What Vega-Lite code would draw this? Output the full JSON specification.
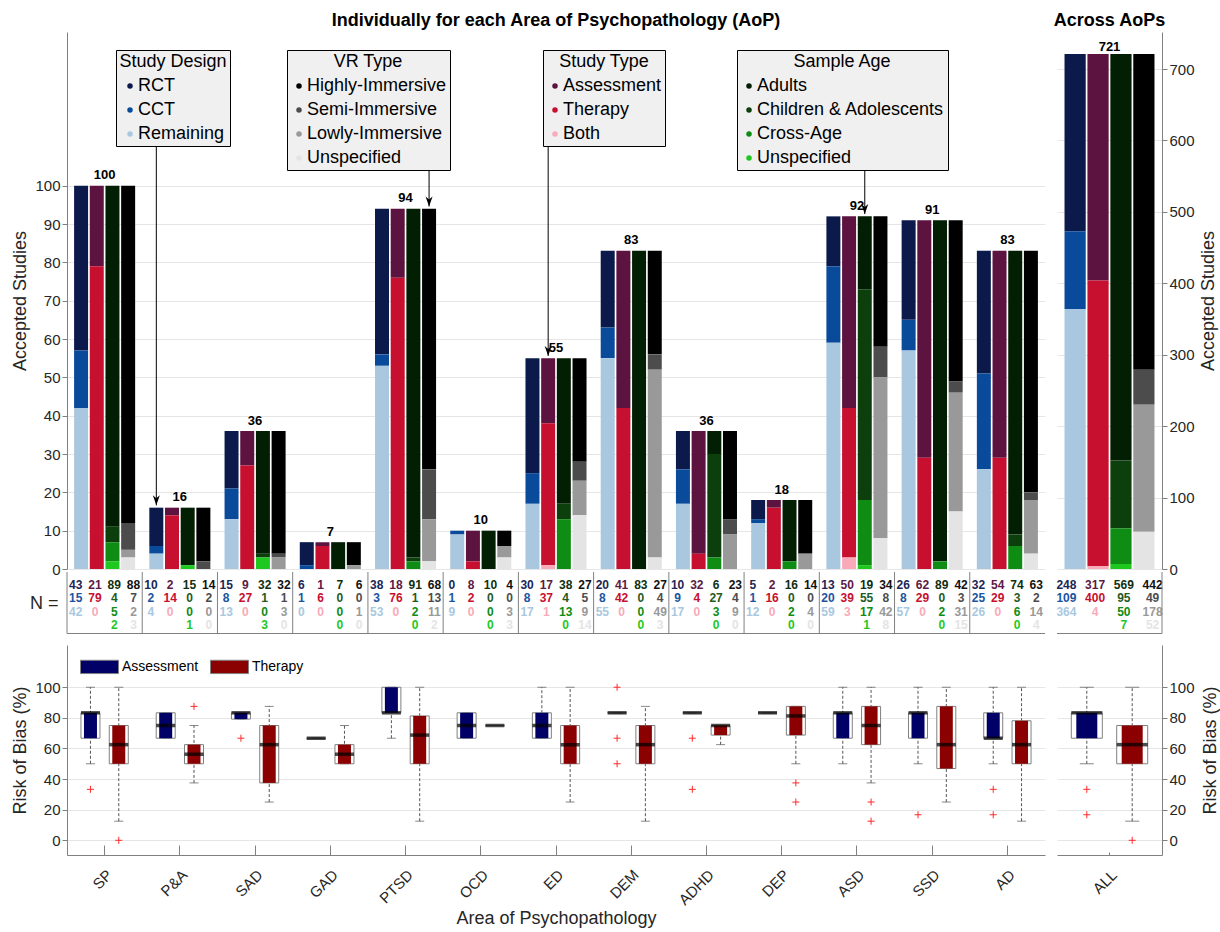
{
  "$schema": "https://vega.github.io/schema/vega-lite/v6.json",
  "background": "white",
  "padding": {"left": 11, "top": 12, "right": 5, "bottom": 5},
  "autosize": {"type": "pad"},
  "datasets": {
    "counts": [
      {"aop": "SP", "N": 100, "RCT": 43, "CCT": 15, "Remaining": 42, "Assessment": 21, "Therapy": 79, "Both": 0, "Adults": 89, "Children & Adolescents": 4, "Cross-Age": 5, "Unspecified age": 2, "Highly-Immersive": 88, "Semi-Immersive": 7, "Lowly-Immersive": 2, "Unspecified VR": 3},
      {"aop": "P&A", "N": 16, "RCT": 10, "CCT": 2, "Remaining": 4, "Assessment": 2, "Therapy": 14, "Both": 0, "Adults": 15, "Children & Adolescents": 0, "Cross-Age": 0, "Unspecified age": 1, "Highly-Immersive": 14, "Semi-Immersive": 2, "Lowly-Immersive": 0, "Unspecified VR": 0},
      {"aop": "SAD", "N": 36, "RCT": 15, "CCT": 8, "Remaining": 13, "Assessment": 9, "Therapy": 27, "Both": 0, "Adults": 32, "Children & Adolescents": 1, "Cross-Age": 0, "Unspecified age": 3, "Highly-Immersive": 32, "Semi-Immersive": 1, "Lowly-Immersive": 3, "Unspecified VR": 0},
      {"aop": "GAD", "N": 7, "RCT": 6, "CCT": 1, "Remaining": 0, "Assessment": 1, "Therapy": 6, "Both": 0, "Adults": 7, "Children & Adolescents": 0, "Cross-Age": 0, "Unspecified age": 0, "Highly-Immersive": 6, "Semi-Immersive": 0, "Lowly-Immersive": 1, "Unspecified VR": 0},
      {"aop": "PTSD", "N": 94, "RCT": 38, "CCT": 3, "Remaining": 53, "Assessment": 18, "Therapy": 76, "Both": 0, "Adults": 91, "Children & Adolescents": 1, "Cross-Age": 2, "Unspecified age": 0, "Highly-Immersive": 68, "Semi-Immersive": 13, "Lowly-Immersive": 11, "Unspecified VR": 2},
      {"aop": "OCD", "N": 10, "RCT": 0, "CCT": 1, "Remaining": 9, "Assessment": 8, "Therapy": 2, "Both": 0, "Adults": 10, "Children & Adolescents": 0, "Cross-Age": 0, "Unspecified age": 0, "Highly-Immersive": 4, "Semi-Immersive": 0, "Lowly-Immersive": 3, "Unspecified VR": 3},
      {"aop": "ED", "N": 55, "RCT": 30, "CCT": 8, "Remaining": 17, "Assessment": 17, "Therapy": 37, "Both": 1, "Adults": 38, "Children & Adolescents": 4, "Cross-Age": 13, "Unspecified age": 0, "Highly-Immersive": 27, "Semi-Immersive": 5, "Lowly-Immersive": 9, "Unspecified VR": 14},
      {"aop": "DEM", "N": 83, "RCT": 20, "CCT": 8, "Remaining": 55, "Assessment": 41, "Therapy": 42, "Both": 0, "Adults": 83, "Children & Adolescents": 0, "Cross-Age": 0, "Unspecified age": 0, "Highly-Immersive": 27, "Semi-Immersive": 4, "Lowly-Immersive": 49, "Unspecified VR": 3},
      {"aop": "ADHD", "N": 36, "RCT": 10, "CCT": 9, "Remaining": 17, "Assessment": 32, "Therapy": 4, "Both": 0, "Adults": 6, "Children & Adolescents": 27, "Cross-Age": 3, "Unspecified age": 0, "Highly-Immersive": 23, "Semi-Immersive": 4, "Lowly-Immersive": 9, "Unspecified VR": 0},
      {"aop": "DEP", "N": 18, "RCT": 5, "CCT": 1, "Remaining": 12, "Assessment": 2, "Therapy": 16, "Both": 0, "Adults": 16, "Children & Adolescents": 0, "Cross-Age": 2, "Unspecified age": 0, "Highly-Immersive": 14, "Semi-Immersive": 0, "Lowly-Immersive": 4, "Unspecified VR": 0},
      {"aop": "ASD", "N": 92, "RCT": 13, "CCT": 20, "Remaining": 59, "Assessment": 50, "Therapy": 39, "Both": 3, "Adults": 19, "Children & Adolescents": 55, "Cross-Age": 17, "Unspecified age": 1, "Highly-Immersive": 34, "Semi-Immersive": 8, "Lowly-Immersive": 42, "Unspecified VR": 8},
      {"aop": "SSD", "N": 91, "RCT": 26, "CCT": 8, "Remaining": 57, "Assessment": 62, "Therapy": 29, "Both": 0, "Adults": 89, "Children & Adolescents": 0, "Cross-Age": 2, "Unspecified age": 0, "Highly-Immersive": 42, "Semi-Immersive": 3, "Lowly-Immersive": 31, "Unspecified VR": 15},
      {"aop": "AD", "N": 83, "RCT": 32, "CCT": 25, "Remaining": 26, "Assessment": 54, "Therapy": 29, "Both": 0, "Adults": 74, "Children & Adolescents": 3, "Cross-Age": 6, "Unspecified age": 0, "Highly-Immersive": 63, "Semi-Immersive": 2, "Lowly-Immersive": 14, "Unspecified VR": 4},
      {"aop": "ALL", "N": 721, "RCT": 248, "CCT": 109, "Remaining": 364, "Assessment": 317, "Therapy": 400, "Both": 4, "Adults": 569, "Children & Adolescents": 95, "Cross-Age": 50, "Unspecified age": 7, "Highly-Immersive": 442, "Semi-Immersive": 49, "Lowly-Immersive": 178, "Unspecified VR": 52}
    ],
    "levels": [
      {"level": "RCT", "group": "Design", "rank": 1},
      {"level": "CCT", "group": "Design", "rank": 2},
      {"level": "Remaining", "group": "Design", "rank": 3},
      {"level": "Assessment", "group": "Type", "rank": 1},
      {"level": "Therapy", "group": "Type", "rank": 2},
      {"level": "Both", "group": "Type", "rank": 3},
      {"level": "Adults", "group": "Age", "rank": 1},
      {"level": "Children & Adolescents", "group": "Age", "rank": 2},
      {"level": "Cross-Age", "group": "Age", "rank": 3},
      {"level": "Unspecified age", "group": "Age", "rank": 4},
      {"level": "Highly-Immersive", "group": "VR", "rank": 1},
      {"level": "Semi-Immersive", "group": "VR", "rank": 2},
      {"level": "Lowly-Immersive", "group": "VR", "rank": 3},
      {"level": "Unspecified VR", "group": "VR", "rank": 4}
    ],
    "arrows": [
      {"aop": "P&A", "group": "Design", "from": 110.4, "to": 16.6},
      {"aop": "PTSD", "group": "VR", "from": 104.1, "to": 94.6},
      {"aop": "ED", "group": "Type", "from": 110.4, "to": 55.6},
      {"aop": "ASD", "group": "Age", "from": 104.1, "to": 92.6}
    ],
    "boxes": [
      {"aop": "SP", "type": "Assessment", "lo": 50, "q1": 66.7, "med": 83.3, "q3": 83.3, "hi": 100},
      {"aop": "SP", "type": "Therapy", "lo": 12.5, "q1": 50, "med": 62.5, "q3": 75, "hi": 100},
      {"aop": "P&A", "type": "Assessment", "lo": 66.7, "q1": 66.7, "med": 75, "q3": 83.3, "hi": 83.3},
      {"aop": "P&A", "type": "Therapy", "lo": 37.5, "q1": 50, "med": 56.25, "q3": 62.5, "hi": 75},
      {"aop": "SAD", "type": "Assessment", "lo": 79.2, "q1": 79.2, "med": 83.3, "q3": 83.3, "hi": 83.3},
      {"aop": "SAD", "type": "Therapy", "lo": 25, "q1": 37.5, "med": 62.5, "q3": 75, "hi": 87.5},
      {"aop": "GAD", "type": "Assessment", "lo": 66.7, "q1": 66.7, "med": 66.7, "q3": 66.7, "hi": 66.7},
      {"aop": "GAD", "type": "Therapy", "lo": 50, "q1": 50, "med": 56.25, "q3": 62.5, "hi": 75},
      {"aop": "PTSD", "type": "Assessment", "lo": 66.7, "q1": 83.3, "med": 83.3, "q3": 100, "hi": 100},
      {"aop": "PTSD", "type": "Therapy", "lo": 12.5, "q1": 50, "med": 68.75, "q3": 81.25, "hi": 100},
      {"aop": "OCD", "type": "Assessment", "lo": 66.7, "q1": 66.7, "med": 75, "q3": 83.3, "hi": 83.3},
      {"aop": "OCD", "type": "Therapy", "lo": 75, "q1": 75, "med": 75, "q3": 75, "hi": 75},
      {"aop": "ED", "type": "Assessment", "lo": 66.7, "q1": 66.7, "med": 75, "q3": 83.3, "hi": 100},
      {"aop": "ED", "type": "Therapy", "lo": 25, "q1": 50, "med": 62.5, "q3": 75, "hi": 100},
      {"aop": "DEM", "type": "Assessment", "lo": 83.3, "q1": 83.3, "med": 83.3, "q3": 83.3, "hi": 83.3},
      {"aop": "DEM", "type": "Therapy", "lo": 12.5, "q1": 50, "med": 62.5, "q3": 75, "hi": 87.5},
      {"aop": "ADHD", "type": "Assessment", "lo": 83.3, "q1": 83.3, "med": 83.3, "q3": 83.3, "hi": 83.3},
      {"aop": "ADHD", "type": "Therapy", "lo": 62.5, "q1": 68.75, "med": 75, "q3": 75, "hi": 75},
      {"aop": "DEP", "type": "Assessment", "lo": 83.3, "q1": 83.3, "med": 83.3, "q3": 83.3, "hi": 83.3},
      {"aop": "DEP", "type": "Therapy", "lo": 50, "q1": 68.75, "med": 81.25, "q3": 87.5, "hi": 87.5},
      {"aop": "ASD", "type": "Assessment", "lo": 50, "q1": 66.7, "med": 83.3, "q3": 83.3, "hi": 100},
      {"aop": "ASD", "type": "Therapy", "lo": 37.5, "q1": 62.5, "med": 75, "q3": 87.5, "hi": 100},
      {"aop": "SSD", "type": "Assessment", "lo": 50, "q1": 66.7, "med": 83.3, "q3": 83.3, "hi": 100},
      {"aop": "SSD", "type": "Therapy", "lo": 25, "q1": 46.9, "med": 62.5, "q3": 87.5, "hi": 100},
      {"aop": "AD", "type": "Assessment", "lo": 50, "q1": 66.7, "med": 66.7, "q3": 83.3, "hi": 100},
      {"aop": "AD", "type": "Therapy", "lo": 12.5, "q1": 50, "med": 62.5, "q3": 78.1, "hi": 100},
      {"aop": "ALL", "type": "Assessment", "lo": 50, "q1": 66.7, "med": 83.3, "q3": 83.3, "hi": 100},
      {"aop": "ALL", "type": "Therapy", "lo": 12.5, "q1": 50, "med": 62.5, "q3": 75, "hi": 100}
    ],
    "outliers": [
      {"aop": "SP", "type": "Assessment", "v": 33.3},
      {"aop": "SP", "type": "Therapy", "v": 0},
      {"aop": "P&A", "type": "Therapy", "v": 87.5},
      {"aop": "SAD", "type": "Assessment", "v": 66.7},
      {"aop": "DEM", "type": "Assessment", "v": 100},
      {"aop": "DEM", "type": "Assessment", "v": 66.7},
      {"aop": "DEM", "type": "Assessment", "v": 50},
      {"aop": "ADHD", "type": "Assessment", "v": 66.7},
      {"aop": "ADHD", "type": "Assessment", "v": 33.3},
      {"aop": "DEP", "type": "Therapy", "v": 37.5},
      {"aop": "DEP", "type": "Therapy", "v": 25},
      {"aop": "ASD", "type": "Therapy", "v": 25},
      {"aop": "ASD", "type": "Therapy", "v": 12.5},
      {"aop": "SSD", "type": "Assessment", "v": 16.7},
      {"aop": "AD", "type": "Assessment", "v": 33.3},
      {"aop": "AD", "type": "Assessment", "v": 16.7},
      {"aop": "ALL", "type": "Assessment", "v": 33.3},
      {"aop": "ALL", "type": "Assessment", "v": 16.7},
      {"aop": "ALL", "type": "Therapy", "v": 0}
    ]
  },
  "data": {"name": "counts"},
  "transform": [
    {"fold": ["RCT", "CCT", "Remaining", "Assessment", "Therapy", "Both", "Adults", "Children & Adolescents", "Cross-Age", "Unspecified age", "Highly-Immersive", "Semi-Immersive", "Lowly-Immersive", "Unspecified VR"], "as": ["level", "n"]},
    {"lookup": "level", "from": {"data": {"name": "levels"}, "key": "level", "fields": ["group", "rank"]}},
    {"stack": "n", "groupby": ["aop", "group"], "sort": [{"field": "rank", "order": "descending"}], "as": ["y0", "y1"]}
  ],
  "columns": 2,
  "bounds": "flush",
  "spacing": {"row": 3, "column": 12},
  "resolve": {"scale": {"color": "independent", "x": "independent", "y": "independent", "xOffset": "independent"}},
  "concat": [
    {
      "width": 978,
      "height": 537,
      "title": {"text": "Individually for each Area of Psychopathology (AoP)"},
      "layer": [
        {
          "transform": [{"filter": "datum.group === 'Design' && datum.aop !== 'ALL'"}],
          "mark": {"type": "bar"},
          "encoding": {
            "x": {"field": "aop", "type": "nominal", "scale": {"domain": ["SP", "P&A", "SAD", "GAD", "PTSD", "OCD", "ED", "DEM", "ADHD", "DEP", "ASD", "SSD", "AD"], "paddingInner": 0, "paddingOuter": 0}, "axis": null},
            "xOffset": {"field": "group", "type": "nominal", "scale": {"domain": ["Design", "Type", "Age", "VR"], "paddingInner": 0.108, "paddingOuter": 0.452}},
            "y": {"field": "y0", "type": "quantitative", "title": "Accepted Studies", "scale": {"domain": [0, 140.1], "nice": false, "zero": false}, "axis": {"values": [0, 10, 20, 30, 40, 50, 60, 70, 80, 90, 100], "grid": true, "titleX": -47, "titleBaseline": "middle"}},
            "y2": {"field": "y1"},
            "color": {"field": "level", "type": "nominal", "scale": {"domain": ["RCT", "CCT", "Remaining"], "range": ["#0b1a4a", "#0a4a9b", "#a9c8df"]}, "legend": {"title": "Study Design", "legendX": 49, "legendY": 18, "symbolType": "circle", "fillColor": "#f0f0f0", "strokeColor": "#000000"}}
          }
        },
        {
          "transform": [{"filter": "datum.group === 'Type' && datum.aop !== 'ALL'"}],
          "mark": {"type": "bar"},
          "encoding": {
            "x": {"field": "aop", "type": "nominal", "scale": {"domain": ["SP", "P&A", "SAD", "GAD", "PTSD", "OCD", "ED", "DEM", "ADHD", "DEP", "ASD", "SSD", "AD"], "paddingInner": 0, "paddingOuter": 0}, "axis": null},
            "xOffset": {"field": "group", "type": "nominal", "scale": {"domain": ["Design", "Type", "Age", "VR"], "paddingInner": 0.108, "paddingOuter": 0.452}},
            "y": {"field": "y0", "type": "quantitative", "title": "Accepted Studies"},
            "y2": {"field": "y1"},
            "color": {"field": "level", "type": "nominal", "scale": {"domain": ["Assessment", "Therapy", "Both"], "range": ["#5c1340", "#c70f2f", "#f8aab8"]}, "legend": {"title": "Study Type", "legendX": 476, "legendY": 18, "symbolType": "circle", "fillColor": "#f0f0f0", "strokeColor": "#000000"}}
          }
        },
        {
          "transform": [{"filter": "datum.group === 'Age' && datum.aop !== 'ALL'"}],
          "mark": {"type": "bar"},
          "encoding": {
            "x": {"field": "aop", "type": "nominal", "scale": {"domain": ["SP", "P&A", "SAD", "GAD", "PTSD", "OCD", "ED", "DEM", "ADHD", "DEP", "ASD", "SSD", "AD"], "paddingInner": 0, "paddingOuter": 0}, "axis": null},
            "xOffset": {"field": "group", "type": "nominal", "scale": {"domain": ["Design", "Type", "Age", "VR"], "paddingInner": 0.108, "paddingOuter": 0.452}},
            "y": {"field": "y0", "type": "quantitative", "title": "Accepted Studies"},
            "y2": {"field": "y1"},
            "color": {"field": "level", "type": "nominal", "scale": {"domain": ["Adults", "Children & Adolescents", "Cross-Age", "Unspecified age"], "range": ["#031f03", "#0c3f0c", "#0e8c14", "#1ec81e"]}, "legend": {"title": "Sample Age", "legendX": 670, "legendY": 18, "symbolType": "circle", "fillColor": "#f0f0f0", "strokeColor": "#000000", "labelExpr": "datum.label === 'Unspecified age' ? 'Unspecified' : datum.label"}}
          }
        },
        {
          "transform": [{"filter": "datum.group === 'VR' && datum.aop !== 'ALL'"}],
          "mark": {"type": "bar"},
          "encoding": {
            "x": {"field": "aop", "type": "nominal", "scale": {"domain": ["SP", "P&A", "SAD", "GAD", "PTSD", "OCD", "ED", "DEM", "ADHD", "DEP", "ASD", "SSD", "AD"], "paddingInner": 0, "paddingOuter": 0}, "axis": null},
            "xOffset": {"field": "group", "type": "nominal", "scale": {"domain": ["Design", "Type", "Age", "VR"], "paddingInner": 0.108, "paddingOuter": 0.452}},
            "y": {"field": "y0", "type": "quantitative", "title": "Accepted Studies"},
            "y2": {"field": "y1"},
            "color": {"field": "level", "type": "nominal", "scale": {"domain": ["Highly-Immersive", "Semi-Immersive", "Lowly-Immersive", "Unspecified VR"], "range": ["#000000", "#4c4c4c", "#999999", "#e4e4e4"]}, "legend": {"title": "VR Type", "legendX": 220, "legendY": 18, "symbolType": "circle", "fillColor": "#f0f0f0", "strokeColor": "#000000", "labelExpr": "datum.label === 'Unspecified VR' ? 'Unspecified' : datum.label"}}
          }
        },
        {
          "transform": [{"filter": "datum.level === 'RCT' && datum.aop !== 'ALL'"}],
          "mark": {"type": "text", "fontSize": 13, "fontWeight": "bold", "dy": -6.5, "baseline": "alphabetic", "color": "#000000"},
          "encoding": {
            "x": {"field": "aop", "type": "nominal", "scale": {"domain": ["SP", "P&A", "SAD", "GAD", "PTSD", "OCD", "ED", "DEM", "ADHD", "DEP", "ASD", "SSD", "AD"], "paddingInner": 0, "paddingOuter": 0}, "axis": null},
            "y": {"field": "N", "type": "quantitative", "title": "Accepted Studies"},
            "text": {"field": "N", "type": "quantitative"}
          }
        },
        {
          "data": {"name": "arrows"},
          "mark": {"type": "rule", "color": "#000000", "strokeWidth": 1},
          "encoding": {
            "x": {"field": "aop", "type": "nominal", "scale": {"domain": ["SP", "P&A", "SAD", "GAD", "PTSD", "OCD", "ED", "DEM", "ADHD", "DEP", "ASD", "SSD", "AD"], "paddingInner": 0, "paddingOuter": 0}, "axis": null},
            "xOffset": {"field": "group", "type": "nominal", "scale": {"domain": ["Design", "Type", "Age", "VR"], "paddingInner": 0.108, "paddingOuter": 0.452}},
            "y": {"field": "from", "type": "quantitative", "title": "Accepted Studies"},
            "y2": {"field": "to"}
          }
        },
        {
          "data": {"name": "arrows"},
          "mark": {"type": "point", "shape": "M0,0L-0.7,-2L0,-1.4L0.7,-2Z", "size": 100, "filled": true, "color": "#000000", "opacity": 1},
          "encoding": {
            "x": {"field": "aop", "type": "nominal", "scale": {"domain": ["SP", "P&A", "SAD", "GAD", "PTSD", "OCD", "ED", "DEM", "ADHD", "DEP", "ASD", "SSD", "AD"], "paddingInner": 0, "paddingOuter": 0}, "axis": null},
            "xOffset": {"field": "group", "type": "nominal", "scale": {"domain": ["Design", "Type", "Age", "VR"], "paddingInner": 0.108, "paddingOuter": 0.452}},
            "y": {"field": "to", "type": "quantitative", "title": "Accepted Studies"}
          }
        }
      ],
      "resolve": {"scale": {"color": "independent"}}
    },
    {
      "width": 105,
      "height": 537,
      "title": {"text": "Across AoPs"},
      "transform": [{"filter": "datum.aop === 'ALL'"}],
      "layer": [
        {
          "mark": {"type": "bar"},
          "encoding": {
            "x": {"field": "aop", "type": "nominal", "scale": {"domain": ["ALL"], "paddingInner": 0, "paddingOuter": 0}, "axis": null},
            "xOffset": {"field": "group", "type": "nominal", "scale": {"domain": ["Design", "Type", "Age", "VR"], "paddingInner": 0.075, "paddingOuter": 0.328}},
            "y": {"field": "y0", "type": "quantitative", "title": "Accepted Studies", "scale": {"domain": [0, 751.8], "nice": false, "zero": false}, "axis": {"orient": "right", "values": [0, 100, 200, 300, 400, 500, 600, 700], "grid": true, "titleAngle": 270, "titleX": 46, "titleBaseline": "middle"}},
            "y2": {"field": "y1"},
            "color": {"field": "level", "type": "nominal", "legend": null, "scale": {"domain": ["RCT", "CCT", "Remaining", "Assessment", "Therapy", "Both", "Adults", "Children & Adolescents", "Cross-Age", "Unspecified age", "Highly-Immersive", "Semi-Immersive", "Lowly-Immersive", "Unspecified VR"], "range": ["#0b1a4a", "#0a4a9b", "#a9c8df", "#5c1340", "#c70f2f", "#f8aab8", "#031f03", "#0c3f0c", "#0e8c14", "#1ec81e", "#000000", "#4c4c4c", "#999999", "#e4e4e4"]}}
          }
        },
        {
          "transform": [{"filter": "datum.level === 'RCT'"}],
          "mark": {"type": "text", "fontSize": 13, "fontWeight": "bold", "dy": -3, "baseline": "alphabetic", "color": "#000000"},
          "encoding": {
            "x": {"field": "aop", "type": "nominal", "scale": {"domain": ["ALL"], "paddingInner": 0, "paddingOuter": 0}, "axis": null},
            "y": {"field": "N", "type": "quantitative", "title": "Accepted Studies"},
            "text": {"field": "N", "type": "quantitative"}
          }
        }
      ]
    },
    {
      "width": 978,
      "height": 70,
      "layer": [
        {
          "transform": [{"filter": "datum.aop !== 'ALL'"}],
          "mark": {"type": "text", "fontSize": 12, "fontWeight": "bold", "baseline": "middle"},
          "encoding": {
            "x": {"field": "aop", "type": "nominal", "scale": {"domain": ["SP", "P&A", "SAD", "GAD", "PTSD", "OCD", "ED", "DEM", "ADHD", "DEP", "ASD", "SSD", "AD"], "paddingInner": 0, "paddingOuter": 0}, "axis": null},
            "xOffset": {"field": "group", "type": "nominal", "scale": {"domain": ["Design", "Type", "Age", "VR"], "paddingInner": 0.108, "paddingOuter": 0.452}},
            "y": {"field": "rank", "type": "quantitative", "title": "N =", "scale": {"domain": [0.05, 5.235], "reverse": true, "nice": false, "zero": false}, "axis": {"domain": false, "ticks": false, "labels": false, "grid": false, "titleAngle": 0, "titleAlign": "right", "titleBaseline": "middle", "titleX": -9, "titleY": 31, "titleFontSize": 18}},
            "text": {"field": "n", "type": "quantitative"},
            "color": {"field": "level", "type": "nominal", "legend": null, "scale": {"domain": ["RCT", "CCT", "Remaining", "Assessment", "Therapy", "Both", "Adults", "Children & Adolescents", "Cross-Age", "Unspecified age", "Highly-Immersive", "Semi-Immersive", "Lowly-Immersive", "Unspecified VR"], "range": ["#1a2656", "#1a54a0", "#a9c8df", "#5c1a45", "#c70f2f", "#f8aab8", "#0f2f0f", "#1f5a1f", "#0e8c14", "#1ec81e", "#111111", "#4c4c4c", "#999999", "#e4e4e4"]}}
          }
        },
        {
          "transform": [{"filter": "datum.level === 'RCT' && datum.aop !== 'ALL'"}],
          "mark": {"type": "rule", "color": "#808080", "strokeWidth": 1},
          "encoding": {
            "x": {"field": "aop", "type": "nominal", "bandPosition": 0, "scale": {"domain": ["SP", "P&A", "SAD", "GAD", "PTSD", "OCD", "ED", "DEM", "ADHD", "DEP", "ASD", "SSD", "AD"], "paddingInner": 0, "paddingOuter": 0}, "axis": null},
            "y": {"datum": 0.05},
            "y2": {"datum": 4.606}
          }
        },
        {
          "data": {"values": [{"edge": "bottom"}]},
          "mark": {"type": "rule", "color": "#808080", "strokeWidth": 1},
          "encoding": {"y": {"datum": 4.606}}
        }
      ]
    },
    {
      "width": 105,
      "height": 70,
      "layer": [
        {
          "transform": [{"filter": "datum.aop === 'ALL'"}],
          "mark": {"type": "text", "fontSize": 12, "fontWeight": "bold", "baseline": "middle"},
          "encoding": {
            "x": {"field": "aop", "type": "nominal", "scale": {"domain": ["ALL"], "paddingInner": 0, "paddingOuter": 0}, "axis": null},
            "xOffset": {"field": "group", "type": "nominal", "scale": {"domain": ["Design", "Type", "Age", "VR"], "paddingInner": 0.075, "paddingOuter": 0.328}},
            "y": {"field": "rank", "type": "quantitative", "scale": {"domain": [0.05, 5.235], "reverse": true, "nice": false, "zero": false}, "axis": null},
            "text": {"field": "n", "type": "quantitative"},
            "color": {"field": "level", "type": "nominal", "legend": null, "scale": {"domain": ["RCT", "CCT", "Remaining", "Assessment", "Therapy", "Both", "Adults", "Children & Adolescents", "Cross-Age", "Unspecified age", "Highly-Immersive", "Semi-Immersive", "Lowly-Immersive", "Unspecified VR"], "range": ["#1a2656", "#1a54a0", "#a9c8df", "#5c1a45", "#c70f2f", "#f8aab8", "#0f2f0f", "#1f5a1f", "#0e8c14", "#1ec81e", "#111111", "#4c4c4c", "#999999", "#e4e4e4"]}}
          }
        },
        {
          "transform": [{"filter": "datum.level === 'RCT' && datum.aop === 'ALL'"}],
          "mark": {"type": "rule", "color": "#808080", "strokeWidth": 1},
          "encoding": {
            "x": {"field": "aop", "type": "nominal", "bandPosition": 1, "scale": {"domain": ["ALL"], "paddingInner": 0, "paddingOuter": 0}, "axis": null},
            "y": {"datum": 0.05},
            "y2": {"datum": 4.606}
          }
        },
        {
          "data": {"values": [{"edge": "bottom"}]},
          "mark": {"type": "rule", "color": "#808080", "strokeWidth": 1},
          "encoding": {"y": {"datum": 4.606}}
        }
      ]
    },
    {
      "width": 978,
      "height": 210,
      "data": {"name": "boxes"},
      "transform": [{"filter": "datum.aop !== 'ALL'"}],
      "layer": [
        {
          "mark": {"type": "rule", "strokeDash": [3, 2], "color": "#555555", "strokeWidth": 1},
          "encoding": {
            "x": {"field": "aop", "type": "nominal", "title": "Area of Psychopathology", "scale": {"domain": ["SP", "P&A", "SAD", "GAD", "PTSD", "OCD", "ED", "DEM", "ADHD", "DEP", "ASD", "SSD", "AD"], "paddingInner": 0, "paddingOuter": -0.066}, "axis": {"labelAngle": -45, "labelAlign": "right", "labelBaseline": "top", "tickSize": -10, "labelPadding": 22, "titleY": 54, "titleBaseline": "top"}},
            "xOffset": {"field": "type", "type": "nominal", "scale": {"domain": ["Assessment", "Therapy"], "paddingInner": 0.336, "paddingOuter": 0.497}},
            "y": {"field": "lo", "type": "quantitative", "title": "Risk of Bias (%)", "scale": {"domain": [-9.6, 127.6], "nice": false, "zero": false}, "axis": {"values": [0, 20, 40, 60, 80, 100], "grid": true, "titleX": -47, "titleBaseline": "middle"}},
            "y2": {"field": "hi"}
          }
        },
        {
          "mark": {"type": "tick", "size": 9, "thickness": 1, "color": "#555555"},
          "encoding": {
            "x": {"field": "aop", "type": "nominal", "title": "Area of Psychopathology"},
            "xOffset": {"field": "type", "type": "nominal"},
            "y": {"field": "lo", "type": "quantitative", "title": "Risk of Bias (%)"}
          }
        },
        {
          "mark": {"type": "tick", "size": 9, "thickness": 1, "color": "#555555"},
          "encoding": {
            "x": {"field": "aop", "type": "nominal", "title": "Area of Psychopathology"},
            "xOffset": {"field": "type", "type": "nominal"},
            "y": {"field": "hi", "type": "quantitative", "title": "Risk of Bias (%)"}
          }
        },
        {
          "mark": {"type": "bar", "size": 19, "fill": "#ffffff", "stroke": "#808080", "strokeWidth": 1},
          "encoding": {
            "x": {"field": "aop", "type": "nominal", "title": "Area of Psychopathology"},
            "xOffset": {"field": "type", "type": "nominal"},
            "y": {"field": "q1", "type": "quantitative", "title": "Risk of Bias (%)"},
            "y2": {"field": "q3"}
          }
        },
        {
          "mark": {"type": "bar", "size": 13},
          "encoding": {
            "x": {"field": "aop", "type": "nominal", "title": "Area of Psychopathology"},
            "xOffset": {"field": "type", "type": "nominal"},
            "y": {"field": "q1", "type": "quantitative", "title": "Risk of Bias (%)"},
            "y2": {"field": "q3"},
            "color": {"field": "type", "type": "nominal", "scale": {"domain": ["Assessment", "Therapy"], "range": ["#000066", "#8b0000"]}, "legend": {"title": null, "legendX": 13, "legendY": 2, "direction": "horizontal", "symbolType": "M-1,-0.35H1V0.35H-1Z", "symbolSize": 1444, "symbolStrokeColor": "#808080", "symbolStrokeWidth": 1, "symbolOffset": 0, "labelFontSize": 14, "labelOffset": 3, "columnPadding": 9, "padding": 0}}
          }
        },
        {
          "mark": {"type": "tick", "size": 19, "thickness": 3.5, "color": "#000000"},
          "encoding": {
            "x": {"field": "aop", "type": "nominal", "title": "Area of Psychopathology"},
            "xOffset": {"field": "type", "type": "nominal"},
            "y": {"field": "med", "type": "quantitative", "title": "Risk of Bias (%)"}
          }
        },
        {
          "data": {"name": "outliers"},
          "transform": [{"filter": "datum.aop !== 'ALL'"}],
          "mark": {"type": "point", "shape": "M-1,0H1M0,-1V1", "size": 49, "filled": false, "color": "#ff2a2a", "strokeWidth": 1, "opacity": 1},
          "encoding": {
            "x": {"field": "aop", "type": "nominal", "title": "Area of Psychopathology"},
            "xOffset": {"field": "type", "type": "nominal"},
            "y": {"field": "v", "type": "quantitative", "title": "Risk of Bias (%)"}
          }
        }
      ]
    },
    {
      "width": 105,
      "height": 210,
      "data": {"name": "boxes"},
      "transform": [{"filter": "datum.aop === 'ALL'"}],
      "layer": [
        {
          "mark": {"type": "rule", "strokeDash": [3, 2], "color": "#555555", "strokeWidth": 1},
          "encoding": {
            "x": {"field": "aop", "type": "nominal", "title": null, "scale": {"domain": ["ALL"], "paddingInner": 0, "paddingOuter": 0}, "axis": {"labelAngle": -45, "labelAlign": "right", "labelBaseline": "top", "tickSize": -3, "labelPadding": 15}},
            "xOffset": {"field": "type", "type": "nominal", "scale": {"domain": ["Assessment", "Therapy"], "paddingInner": 0.317, "paddingOuter": 0.315}},
            "y": {"field": "lo", "type": "quantitative", "title": "Risk of Bias (%)", "scale": {"domain": [-9.6, 127.6], "nice": false, "zero": false}, "axis": {"orient": "right", "values": [0, 20, 40, 60, 80, 100], "grid": true, "titleAngle": 270, "titleX": 48, "titleBaseline": "middle"}},
            "y2": {"field": "hi"}
          }
        },
        {
          "mark": {"type": "tick", "size": 14, "thickness": 1, "color": "#555555"},
          "encoding": {
            "x": {"field": "aop", "type": "nominal", "title": null},
            "xOffset": {"field": "type", "type": "nominal"},
            "y": {"field": "lo", "type": "quantitative", "title": "Risk of Bias (%)"}
          }
        },
        {
          "mark": {"type": "tick", "size": 14, "thickness": 1, "color": "#555555"},
          "encoding": {
            "x": {"field": "aop", "type": "nominal", "title": null},
            "xOffset": {"field": "type", "type": "nominal"},
            "y": {"field": "hi", "type": "quantitative", "title": "Risk of Bias (%)"}
          }
        },
        {
          "mark": {"type": "bar", "size": 31, "fill": "#ffffff", "stroke": "#808080", "strokeWidth": 1},
          "encoding": {
            "x": {"field": "aop", "type": "nominal", "title": null},
            "xOffset": {"field": "type", "type": "nominal"},
            "y": {"field": "q1", "type": "quantitative", "title": "Risk of Bias (%)"},
            "y2": {"field": "q3"}
          }
        },
        {
          "mark": {"type": "bar", "size": 21},
          "encoding": {
            "x": {"field": "aop", "type": "nominal", "title": null},
            "xOffset": {"field": "type", "type": "nominal"},
            "y": {"field": "q1", "type": "quantitative", "title": "Risk of Bias (%)"},
            "y2": {"field": "q3"},
            "color": {"field": "type", "type": "nominal", "legend": null, "scale": {"domain": ["Assessment", "Therapy"], "range": ["#000066", "#8b0000"]}}
          }
        },
        {
          "mark": {"type": "tick", "size": 31, "thickness": 3.5, "color": "#000000"},
          "encoding": {
            "x": {"field": "aop", "type": "nominal", "title": null},
            "xOffset": {"field": "type", "type": "nominal"},
            "y": {"field": "med", "type": "quantitative", "title": "Risk of Bias (%)"}
          }
        },
        {
          "data": {"name": "outliers"},
          "transform": [{"filter": "datum.aop === 'ALL'"}],
          "mark": {"type": "point", "shape": "M-1,0H1M0,-1V1", "size": 49, "filled": false, "color": "#ff2a2a", "strokeWidth": 1, "opacity": 1},
          "encoding": {
            "x": {"field": "aop", "type": "nominal", "title": null},
            "xOffset": {"field": "type", "type": "nominal"},
            "y": {"field": "v", "type": "quantitative", "title": "Risk of Bias (%)"}
          }
        }
      ]
    }
  ],
  "config": {
    "font": "Liberation Sans",
    "view": {"stroke": null},
    "axis": {"labelFont": "Liberation Sans", "titleFont": "Liberation Sans", "labelFontSize": 15, "labelColor": "#262626", "titleFontSize": 18, "titleFontWeight": "normal", "titleColor": "#262626", "domainColor": "#808080", "tickColor": "#808080", "tickSize": 5, "labelPadding": 2, "gridColor": "#e6e6e6", "gridWidth": 1},
    "title": {"font": "Liberation Sans", "fontSize": 18, "fontWeight": "bold", "color": "#000000", "offset": 2},
    "legend": {"orient": "none", "titleFont": "Liberation Sans", "labelFont": "Liberation Sans", "titleFontSize": 18, "titleFontWeight": "normal", "titleColor": "#000000", "labelFontSize": 18, "labelColor": "#000000", "symbolSize": 30, "symbolStrokeWidth": 0, "symbolOffset": 0, "padding": 3, "rowPadding": 6, "titlePadding": 6, "titleAnchor": "middle", "labelOffset": -1, "labelLimit": 300}
  }
}
